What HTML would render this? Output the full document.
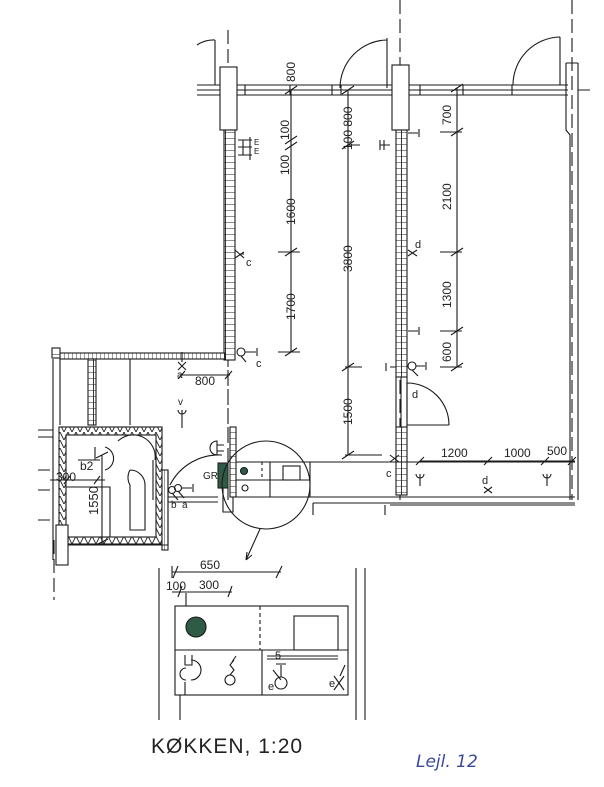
<!DOCTYPE html>
<html><head><meta charset="utf-8"><style>
html,body{margin:0;padding:0;background:#fff}
svg{display:block}
text{font-family:"Liberation Sans",sans-serif;fill:#222}
</style></head><body>
<svg width="604" height="787" viewBox="0 0 604 787" xmlns="http://www.w3.org/2000/svg">
<defs>
<pattern id="brk" width="11" height="6" patternUnits="userSpaceOnUse"><rect width="11" height="6" fill="#fff"/><path d="M0 0H11M5.5 0V6" stroke="#222" stroke-width="0.9"/></pattern>
<pattern id="brkh" width="4" height="8" patternUnits="userSpaceOnUse"><rect width="4" height="8" fill="#fff"/><path d="M0 0V8" stroke="#222" stroke-width="0.9"/></pattern>
<pattern id="zz" width="8" height="8" patternUnits="userSpaceOnUse"><path d="M0 8L4 0L8 8" fill="none" stroke="#222" stroke-width="0.9"/></pattern>
</defs>
<g stroke="#1a1a1a" stroke-width="1.1" fill="none">
<path d="M228 30V500M400 0V500M572 0V500M54 540V600M228 370V430" stroke-dasharray="14 5"/>
<path d="M197 85H568M197 95H568M197 90H220M237 90H392M409 90H568"/>
<path d="M245 85V95M290 85V95M332 85V95M341 85V95M420 85V95M463 85V95M512 85V95"/>
<rect x="220" y="67" width="17" height="63" fill="#fff"/>
<rect x="392" y="65" width="17" height="65" fill="#fff"/>
<path d="M215 40V85M215 40A30 30 0 0 0 197 45"/>
<path d="M387 38V88M387 40A48 48 0 0 0 340 88"/>
<path d="M560 37V85M560 37A48 48 0 0 0 513 85"/>
<path d="M566 63H578M566 63V130L570 135V500M578 63V500M578 90H590"/>
<rect x="224" y="130" width="11" height="230" fill="url(#brk)"/>
<rect x="396" y="130" width="11" height="247" fill="url(#brk)"/>
<path d="M396 377V427M407 377V427M401 377V427"/>
<rect x="396" y="427" width="11" height="68" fill="url(#brk)"/>
<path d="M407 425V383M407 425H449M407 383A42 42 0 0 1 449 425"/>
<rect x="60" y="353" width="165" height="6" fill="url(#brkh)"/>
<rect x="52" y="348" width="8" height="10" fill="url(#brk)"/>
<rect x="88" y="359" width="8" height="66" fill="url(#brk)"/>
<path d="M130 359V425M53 359V560M60 359V425"/>
<path d="M38 430H53M38 437H53M38 470H50M38 490H50M38 520H50"/>
<rect x="59" y="427" width="103" height="117" fill="url(#zz)"/>
<rect x="66" y="435" width="90" height="102" fill="#fff"/>
<rect x="162" y="470" width="6" height="80" fill="url(#brkh)"/>
<path d="M59 545H168V470"/>
<rect x="56" y="525" width="12" height="40" fill="#fff"/>
<path d="M66 487H110V537M153 460V500M130 470A15 15 0 0 1 145 485V530H130V485A15 15 0 0 1 130 470"/>
<path d="M118 441A22 22 0 0 1 155 460"/>
<path d="M95 447V460M105 447A12 12 0 0 1 105 470M78 460H100"/>
<text x="80" y="470" font-size="12" stroke="none">b2</text>
<text x="56" y="481" font-size="12" stroke="none">300</text>
<path d="M50 480H105M70 476L64 484M100 476L94 484"/>
<path d="M102 455V545M96 458L108 452M96 545L108 539"/>
<text transform="translate(98 515) rotate(-90)" font-size="13" stroke="none">1550</text>
<path d="M182 410V428M178 410A4 4 0 0 0 186 410"/><text x="178" y="405" font-size="10" stroke="none">v</text>
<circle cx="172" cy="490" r="3.5"/><circle cx="178" cy="488" r="3.5"/><path d="M182 488H192M193 484V492M172 493L178 500M178 491L184 498"/>
<text x="171" y="508" font-size="10" stroke="none">b</text><text x="182" y="508" font-size="10" stroke="none">a</text>
<path d="M170 485A55 55 0 0 1 222 455"/>
<path d="M168 497H218M168 502H218"/>
<path d="M210 448A7 7 0 0 1 217 441V455A7 7 0 0 1 210 448"/><path d="M217 445H224M217 451H224"/>
<rect x="230" y="427" width="6" height="70" fill="url(#brk)"/>
<rect x="218" y="463" width="10" height="25" fill="#2f5a46" stroke="#222"/>
<text x="203" y="479" font-size="10" stroke="none">GR</text>
<path d="M223 488V512H233V497"/>
<path d="M236 462H575M236 480H310M236 497H575M270 462V497M310 462V497"/>
<path d="M262 462V480" stroke-dasharray="3 3"/>
<rect x="283" y="466" width="17" height="14"/>
<circle cx="244" cy="471" r="3.5" fill="#2f5a46"/><circle cx="245" cy="488" r="3"/>
<path d="M313 503H575M313 503V515M385 505V515M390 505H575"/>
<circle cx="266" cy="485" r="44"/>
<path d="M260 529L246 560M246 560L247 552M246 560L252 555"/>
<path d="M180 375H230M185 371L178 379M232 371L225 379"/>
<text x="195" y="385" font-size="12" stroke="none">800</text>
<path d="M178 362L186 370M186 362L178 370M182 352V362"/><text x="177" y="378" font-size="10" stroke="none">a</text>
<path d="M235 258L244 252M235 250L244 258M240 254H244"/><text x="246" y="266" font-size="11" stroke="none">c</text>
<circle cx="241" cy="352" r="4"/><path d="M245 352H256M257 348V356M241 356L246 362"/><text x="256" y="367" font-size="11" stroke="none">c</text>
<path d="M238 140H252M238 147H252M238 155H252M243 140V155M250 137V160"/>
<text x="254" y="145" font-size="8" stroke="none">E</text><text x="254" y="154" font-size="8" stroke="none">E</text>
<path d="M291 90V352M285 94L297 86M285 144L297 136M285 150L297 142M285 256L297 248M285 356L297 348M278 252H300M278 352H300"/>
<g stroke="none" font-size="12">
<text transform="translate(295 82) rotate(-90)">800</text>
<text transform="translate(289 140) rotate(-90)">100</text>
<text transform="translate(289 175) rotate(-90)">100</text>
<text transform="translate(295 225) rotate(-90)">1600</text>
<text transform="translate(295 320) rotate(-90)">1700</text>
<text transform="translate(352 150) rotate(-90)">100 800</text>
<text transform="translate(352 272) rotate(-90)">3800</text>
<text transform="translate(352 425) rotate(-90)">1500</text>
<text transform="translate(451 125) rotate(-90)">700</text>
<text transform="translate(451 210) rotate(-90)">2100</text>
<text transform="translate(451 308) rotate(-90)">1300</text>
<text transform="translate(451 362) rotate(-90)">600</text>
<text x="441" y="457">1200</text><text x="504" y="457">1000</text><text x="547" y="455">500</text>
</g>
<path d="M348 90V455M342 94L354 86M342 149L354 141M342 371L354 363M342 459L354 451M348 145H360M345 367H362M345 455H382"/>
<path d="M457 88V367M451 92L463 84M451 136L463 128M451 256L463 248M451 335L463 327M451 371L463 363M440 132H462M440 252H462M440 331H462M440 367H462"/>
<path d="M420 461H575M416 465L424 457M484 465L492 457M541 465L549 457M568 465L576 457"/>
<path d="M408 133H418M419 129V137M380 140V150M384 140V150M380 145H390"/>
<path d="M408 250L417 256M408 256L417 250"/><text x="415" y="248" font-size="11" stroke="none">d</text>
<path d="M408 331H418M419 327V335"/>
<path d="M390 367H396M386 363V371"/><circle cx="412" cy="366" r="4"/><path d="M416 366H425M426 362V370M412 370L418 376"/>
<text x="412" y="398" font-size="11" stroke="none">d</text>
<path d="M390 455L399 462M390 462L399 455"/><text x="386" y="477" font-size="11" stroke="none">c</text>
<path d="M420 474V486M416 474A4 4 0 0 0 424 474M547 474V486M543 474A4 4 0 0 0 551 474M484 487L492 493M484 493L492 487"/>
<text x="482" y="484" font-size="11" stroke="none">d</text>
<path d="M159 568V720M365 568V720M356 568V720M180 695V720"/>
<path d="M172 572H281M172 566V578M173 578L178 566M276 578L282 566"/>
<path d="M172 592H232M178 597L182 586M228 597L232 586M186 593V606"/>
<text x="200" y="569" font-size="12" stroke="none">650</text>
<text x="166" y="590" font-size="12" stroke="none">100</text><text x="199" y="589" font-size="12" stroke="none">300</text>
<rect x="175" y="606" width="173" height="89"/>
<path d="M175 650H348M262 650V695M175 695H348"/>
<path d="M260 606V650" stroke-dasharray="4 3"/>
<rect x="294" y="616" width="44" height="34"/>
<circle cx="196" cy="627" r="10" fill="#2f5a46"/>
<path d="M267 656H338M267 659H338M185 655V665H192V655M186 668A6 6 0 0 0 186 680M191 660A9 9 0 1 1 191 680M185 682V695"/>
<circle cx="230" cy="680" r="5"/><path d="M230 675L234 670L230 665L234 660M232 662L236 656"/>
<circle cx="281" cy="683" r="6"/><path d="M281 677V665M276 664H286M273 670L281 680"/>
<path d="M334 676L344 690M344 676L334 690M340 676L345 665"/>
<text x="275" y="659" font-size="11" stroke="none">5</text>
<text x="268" y="690" font-size="11" stroke="none">e</text><text x="329" y="687" font-size="11" stroke="none">e</text>
</g>
<text x="151" y="753" font-size="21" letter-spacing="1">KØKKEN, 1:20</text>
<text x="416" y="767" font-size="17" style="fill:#3a4a9a;font-family:'DejaVu Sans',sans-serif;font-style:italic">Lejl. 12</text>
</svg>
</body></html>
